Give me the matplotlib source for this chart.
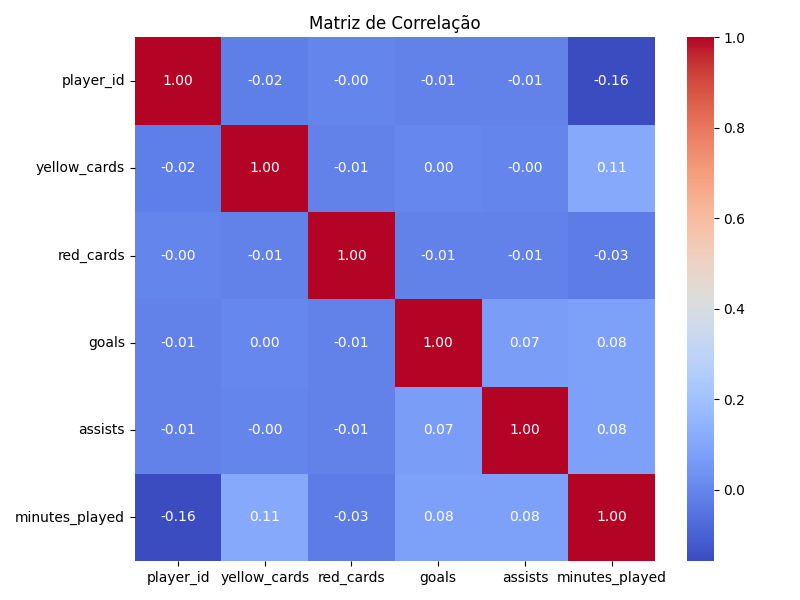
import numpy as np
import pandas as pd
import matplotlib
matplotlib.use("Agg")
import matplotlib.pyplot as plt
import seaborn as sns

# colunas da matriz
columns = ["player_id", "yellow_cards", "red_cards", "goals", "assists", "minutes_played"]

# valores de correlação
player_id = [1.00, -0.02, -0.004, -0.01, -0.01, -0.158]
yellow_cards = [-0.02, 1.00, -0.01, 0.003, -0.004, 0.11]
red_cards = [-0.004, -0.01, 1.00, -0.01, -0.01, -0.03]
goals = [-0.01, 0.003, -0.01, 1.00, 0.07, 0.08]
assists = [-0.01, -0.004, -0.01, 0.07, 1.00, 0.08]
minutes_played = [-0.158, 0.11, -0.03, 0.08, 0.08, 1.00]

corr = pd.DataFrame(
    [player_id, yellow_cards, red_cards, goals, assists, minutes_played],
    index=columns, columns=columns,
)

plt.figure(figsize=(8, 6))
sns.heatmap(corr, annot=True, cmap="coolwarm", fmt=".2f")
plt.title("Matriz de Correlação")
plt.tight_layout()
plt.savefig("out.png", dpi=100)
